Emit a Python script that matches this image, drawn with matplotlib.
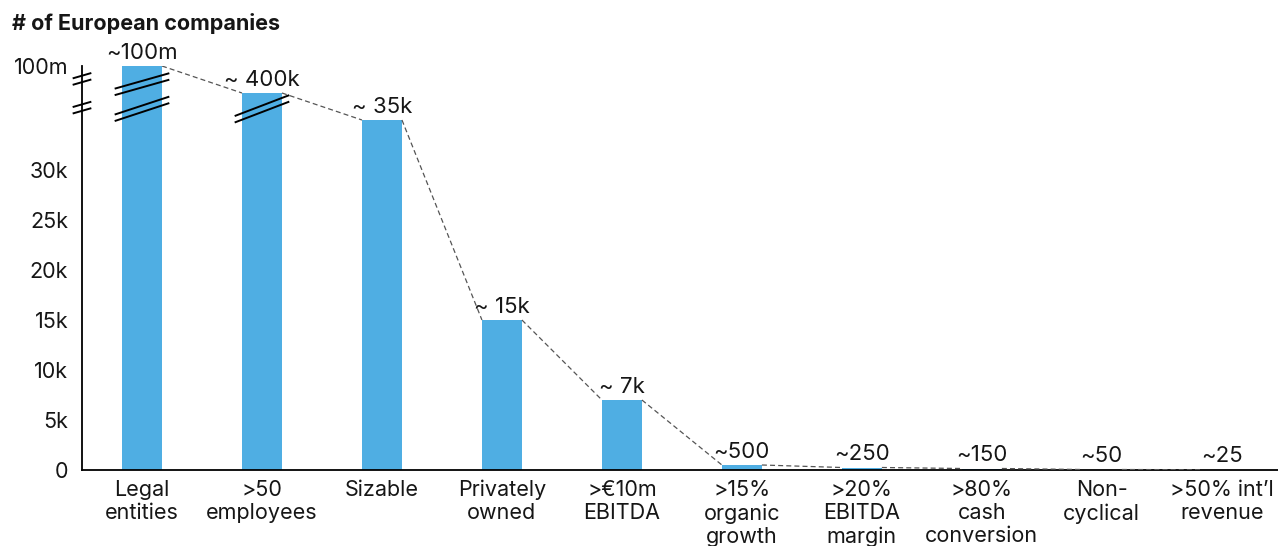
import numpy as np
import matplotlib
matplotlib.use("Agg")
import matplotlib.pyplot as plt
from matplotlib.scale import FuncScale
from matplotlib import transforms

plt.rcParams['font.family'] = ['Inter', 'DejaVu Sans']

# ---- data -------------------------------------------------------------
categories = ["Legal\nentities", ">50\nemployees", "Sizable", "Privately\nowned",
              ">€10m\nEBITDA", ">15%\norganic\ngrowth", ">20%\nEBITDA\nmargin",
              ">80%\ncash\nconversion", "Non-\ncyclical", ">50% int’l\nrevenue"]
values = [100_000_000, 400_000, 35_000, 15_000, 7_000, 500, 250, 150, 50, 25]
value_labels = ["~100m", "~ 400k", "~ 35k", "~ 15k", "~ 7k",
                "~500", "~250", "~150", "~50", "~25"]
ytick_values = [0, 5_000, 10_000, 15_000, 20_000, 25_000, 30_000, 100_000_000]
ytick_labels = ["0", "5k", "10k", "15k", "20k", "25k", "30k", "100m"]

# broken axis: linear up to 36k, strongly compressed above
brk_val = np.array([0.0, 36_000, 400_000, 100_000_000])
brk_pos = np.array([0.0, 36_000, 37_700, 40_400])


def fwd(v):
    return np.interp(v, brk_val, brk_pos)


def inv(p):
    return np.interp(p, brk_pos, brk_val)


BAR = "#4FAEE3"
INK = "#161616"
W = 40 / 120

fig = plt.figure(figsize=(12.78, 5.46), dpi=100)
ax = fig.add_axes([82 / 1278, 76 / 546, 1 - 82 / 1278 + 0.003, 404 / 546])
ax.set_yscale(FuncScale(ax, (fwd, inv)))

x = np.arange(len(values))
ax.bar(x, values, width=W, color=BAR, zorder=2)

ax.set_xlim(-0.5, 9.5)
ax.set_ylim(0, 100_000_000)

# dashed connectors between neighbouring bar tops
for i in range(len(values) - 1):
    ax.plot([x[i] + W / 2, x[i + 1] - W / 2], [values[i], values[i + 1]],
            ls=(0, (4, 2.5)), color="#555555", lw=0.9, zorder=3)

# value labels
for xi, v, lab in zip(x, values, value_labels):
    ax.annotate(lab, (xi, v), xytext=(0, 2.5), textcoords="offset points",
                ha="center", va="bottom", fontsize=16, color=INK)

ax.set_xticks(x)
ax.set_xticklabels(categories, fontsize=15.5, linespacing=1.2, color=INK)
ax.set_yticks(ytick_values)
ax.set_yticklabels(ytick_labels, fontsize=15.5, color=INK)
ax.tick_params(axis="both", length=0)
ax.tick_params(axis="x", pad=7)
ax.tick_params(axis="y", pad=10)

for s in ["top", "right"]:
    ax.spines[s].set_visible(False)
ax.spines["left"].set_linewidth(1.3)
ax.spines["bottom"].set_linewidth(1.3)

# axis-break slashes
blend = transforms.blended_transform_factory(ax.transData, ax.transAxes)


def slashes(xc, yc, half_w, rise, gap):
    for d in (-gap / 2, gap / 2):
        ax.plot([xc - half_w, xc + half_w], [yc + d - rise / 2, yc + d + rise / 2],
                transform=blend, color="black", lw=1.4, clip_on=False, zorder=4)


slashes(0, 0.955, 0.22, 0.037, 0.016)
slashes(0, 0.894, 0.22, 0.043, 0.016)
slashes(1, 0.894, 0.22, 0.050, 0.016)
slashes(-0.5, 0.968, 0.07, 0.012, 0.016)
slashes(-0.5, 0.897, 0.07, 0.012, 0.016)

fig.text(12 / 1278, 1 - 23 / 546, "# of European companies", fontsize=15.5,
         fontweight="bold", ha="left", va="center", color=INK)

fig.savefig("out.png", dpi=100)
